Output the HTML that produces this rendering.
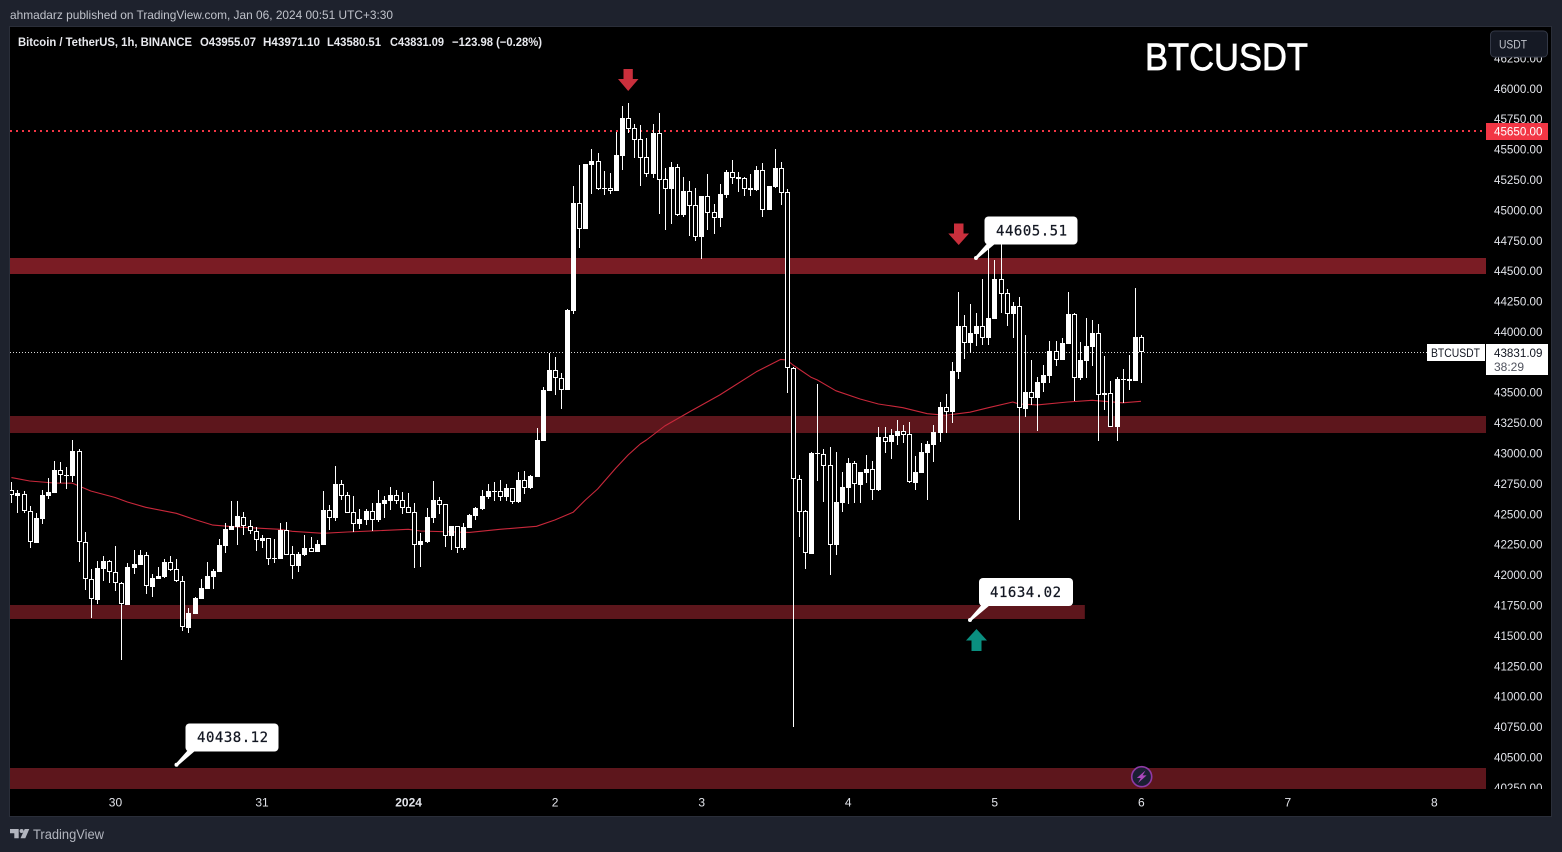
<!DOCTYPE html>
<html lang="en">
<head>
<meta charset="utf-8">
<title>BTCUSDT 1h chart</title>
<style>
html,body{margin:0;padding:0;background:#1e222d;width:1562px;height:852px;overflow:hidden}
svg{display:block;font-family:"Liberation Sans",sans-serif}
.tick{font-size:12px;fill:#e2e4ea}
.legend{font-size:12px;fill:#e8e9ee;font-weight:bold}
.callout-text{font-family:"DejaVu Sans Mono",monospace;font-size:14px;font-weight:normal;fill:#131722;stroke:#131722;stroke-width:0.25px}
</style>
</head>
<body>
<svg id="chart" width="1562" height="852" viewBox="0 0 1562 852" xmlns="http://www.w3.org/2000/svg">
  <defs>
    <clipPath id="pane-clip"><rect x="10" y="27" width="1476" height="762"/></clipPath>
    <clipPath id="axis-clip"><rect x="1486" y="27" width="65" height="762"/></clipPath>
  </defs>
  <rect x="0" y="0" width="1562" height="852" fill="#1e222d"/>
  <rect x="9" y="26" width="1543" height="791" fill="#2a2e39"/>
  <rect x="10" y="27" width="1541" height="789" fill="#000"/>
  <text x="10" y="19" font-size="12" fill="#c0c3cb" textLength="383" lengthAdjust="spacingAndGlyphs">ahmadarz published on TradingView.com, Jan 06, 2024 00:51 UTC+3:30</text>

  <g id="bands" clip-path="url(#pane-clip)"></g>
  <g id="ma" clip-path="url(#pane-clip)"></g>
  <line x1="10" x2="1486" y1="131" y2="131" stroke="#f23645" stroke-width="2" stroke-dasharray="2 4"/>
  <line x1="10" x2="1427" y1="352.5" y2="352.5" stroke="#d8d8d8" stroke-width="1" stroke-dasharray="1 2"/>
  <g id="candles" clip-path="url(#pane-clip)" shape-rendering="crispEdges"></g>

  <g id="y-axis" clip-path="url(#axis-clip)"></g>
  <g id="x-axis"></g>

  <g>
    <text class="legend" x="18" y="46" textLength="174" lengthAdjust="spacingAndGlyphs">Bitcoin / TetherUS, 1h, BINANCE</text>
    <text class="legend" x="200" y="46" textLength="56" lengthAdjust="spacingAndGlyphs">O43955.07</text>
    <text class="legend" x="263" y="46" textLength="57" lengthAdjust="spacingAndGlyphs">H43971.10</text>
    <text class="legend" x="327" y="46" textLength="54" lengthAdjust="spacingAndGlyphs">L43580.51</text>
    <text class="legend" x="390" y="46" textLength="54" lengthAdjust="spacingAndGlyphs">C43831.09</text>
    <text class="legend" x="452" y="46" textLength="90" lengthAdjust="spacingAndGlyphs">−123.98 (−0.28%)</text>
  </g>

  <text x="1145" y="70" font-size="38" fill="#fff" stroke="#fff" stroke-width="0.7" textLength="163" lengthAdjust="spacingAndGlyphs">BTCUSDT</text>

  <g>
    <rect x="1490.5" y="31" width="57" height="26" rx="4" fill="#151924" stroke="#333846"/>
    <text x="1499" y="48.5" font-size="12" fill="#c0c3cb" textLength="28" lengthAdjust="spacingAndGlyphs">USDT</text>
  </g>

  <g>
    <rect x="1486" y="123" width="62" height="17" fill="#f23645"/>
    <text x="1494" y="135.5" font-size="12" fill="#fff" textLength="48.5" lengthAdjust="spacingAndGlyphs">45650.00</text>
  </g>

  <g>
    <rect x="1427" y="344" width="58" height="17" fill="#fff"/>
    <text x="1431" y="357" font-size="12" fill="#131722" textLength="49" lengthAdjust="spacingAndGlyphs">BTCUSDT</text>
    <rect x="1486" y="344" width="62" height="31" fill="#fff"/>
    <text x="1494" y="357" font-size="12" fill="#131722" textLength="48.5" lengthAdjust="spacingAndGlyphs">43831.09</text>
    <text x="1494" y="371" font-size="12" fill="#50535e" textLength="30" lengthAdjust="spacingAndGlyphs">38:29</text>
  </g>

  <polygon points="623.5,69 632.8,69 632.8,79 638.5,79 628.2,91 618,79 623.5,79" fill="#c92f3c"/>
  <polygon points="954,223.5 963.5,223.5 963.5,233.5 969,233.5 958.7,245 948.3,233.5 954,233.5" fill="#c92f3c"/>
  <polygon points="976.5,629 987,640.5 981.5,640.5 981.5,651 971.5,651 971.5,640.5 966,640.5" fill="#0a8f80"/>

  <g>
    <polygon points="975.2,257 977,259 996,243 987.5,243" fill="#fff"/>
    <circle cx="976" cy="258" r="2" fill="#fff"/>
    <rect x="984.5" y="216.5" width="93" height="28" rx="4" fill="#fff"/>
    <text class="callout-text" x="996" y="235.5" textLength="71">44605.51</text>
  </g>
  <g>
    <polygon points="969.2,619 971,621 990,605 981.5,605" fill="#fff"/>
    <circle cx="970" cy="620" r="2" fill="#fff"/>
    <rect x="979" y="578" width="94" height="28" rx="4" fill="#fff"/>
    <text class="callout-text" x="990" y="597" textLength="71">41634.02</text>
  </g>
  <g>
    <polygon points="175.5,764 177.5,766 196,750 188,750" fill="#fff"/>
    <circle cx="176.5" cy="764.7" r="2" fill="#fff"/>
    <rect x="185.5" y="723.5" width="93" height="28" rx="4" fill="#fff"/>
    <text class="callout-text" x="197" y="742" textLength="71">40438.12</text>
  </g>

  <g>
    <circle cx="1141.7" cy="776.7" r="10" fill="#1a1f33" stroke="#8f3aa6" stroke-width="1.6"/>
    <polygon points="1145.5,770.5 1136.8,778 1140.8,778 1138,783 1146.6,775.4 1142.6,775.4" fill="#ab47bc"/>
  </g>

  <g>
    <path d="M10 829h8.7v9.2h-4.4v-5h-4.3zM24.7 829h4.6l-4 9.2h-4.8z" fill="#b2b5be"/>
    <circle cx="21.6" cy="831" r="2" fill="#b2b5be"/>
    <text x="33" y="839" font-size="13.5" fill="#b2b5be" textLength="71" lengthAdjust="spacingAndGlyphs">TradingView</text>
  </g>
</svg>

<script>
const opens = [42694,42651,42667,42527,42264,42461,42648,42675,42859,42820,
42815,43015,42267,41962,41792,42047,42110,42020,41929,41751,
42058,42080,42160,41902,41968,41982,42102,42045,41946,41562,
41677,41801,41883,41982,42023,42237,42368,42396,42478,42404,
42357,42280,42300,42138,42130,42365,42168,42075,42165,42217,
42187,42245,42530,42470,42744,42653,42513,42420,42450,42522,
42450,42585,42607,42653,42612,42555,42513,42247,42269,42470,
42612,42579,42322,42398,42220,42385,42483,42541,42640,42689,
42686,42640,42711,42598,42777,42714,42804,43100,43514,43684,
43616,43522,44172,45056,44847,45371,45404,45179,45179,45157,
45445,45755,45673,45582,45434,45297,45632,45253,45174,45352,
44960,45154,45039,44779,45113,44982,44935,45124,45311,45256,
45261,45165,45165,45327,45001,45190,45344,45146,43698,42785,
42522,42173,43001,42990,42900,42247,42593,42716,42917,42741,
42837,42867,42697,43130,43092,43144,43180,43155,42757,42840,
43004,43070,43169,43377,43339,43671,44044,43907,43981,44044,
43948,44104,44433,44316,44146,44209,43364,43501,43455,43578,
43635,43838,43767,43899,44143,43619,43759,43874,43986,43479,
43493,43219,43611,43594,43594,43955.07];
const highs = [42760,42697,42689,42563,42508,42697,42793,42933,42925,42886,
43108,43032,42352,42047,42113,42154,42121,42237,41938,42094,
42201,42201,42187,42003,42064,42127,42154,42127,41990,41727,
41817,41965,42102,42047,42294,42423,42607,42607,42513,42450,
42396,42324,42305,42294,42423,42434,42237,42187,42324,42311,
42283,42689,42574,42895,42777,42678,42648,42541,42541,42587,
42697,42648,42722,42697,42681,42670,42587,42343,42546,42771,
42640,42582,42401,42401,42426,42500,42557,42697,42747,42763,
42779,42747,42714,42845,42853,42818,43207,43542,43827,43789,
43657,44184,45198,45371,45379,45500,45467,45322,45305,45645,
45856,45881,45708,45700,45593,45708,45799,45346,45396,45379,
45272,45239,45182,45116,45297,45050,45215,45330,45412,45311,
45272,45297,45363,45388,45198,45503,45396,45173,43712,42821,
42533,43010,43569,43034,43051,43010,42842,42958,42936,42845,
42985,42936,43215,43215,43199,43273,43232,43257,42977,43084,
43100,43232,43421,43487,43751,44326,44137,44228,44154,44433,
44729,44590,44729,44351,44244,44285,43973,43767,43627,43726,
43923,43923,43948,44327,44154,43915,44113,44096,44063,43800,
43594,43627,43693,43808,44359,43971.10];
const lows = [42593,42511,42511,42223,42264,42420,42626,42675,42752,42708,
42760,42108,41875,41647,41762,41949,41932,41866,41302,41751,
42009,42080,41844,41820,41965,41973,42034,41938,41540,41524,
41677,41800,41883,41883,42023,42182,42374,42247,42327,42335,
42198,42220,42080,42097,42130,42160,41968,42023,42157,42187,
42187,42245,42368,42445,42615,42508,42352,42376,42409,42360,
42434,42467,42533,42582,42500,42508,42058,42067,42261,42426,
42500,42231,42204,42179,42204,42385,42450,42533,42626,42607,
42607,42607,42582,42593,42664,42705,42804,43100,43514,43481,
43366,43520,44148,44688,44847,45133,45165,45124,45133,45157,
45330,45632,45429,45198,45272,45264,44968,44836,44886,44952,
44943,44787,44746,44598,44836,44803,44861,45100,45215,45149,
45116,45116,45157,44943,45001,45182,45042,43498,40748,42313,
42050,42173,42771,42601,42001,42165,42519,42585,42593,42593,
42757,42618,42692,43004,42955,43070,43086,42757,42700,42837,
42615,42930,43095,43169,43252,43614,43778,43827,43882,43891,
43891,44104,44154,44047,43948,42451,43298,43394,43183,43504,
43578,43718,43767,43899,43430,43603,43619,43718,43101,43356,
43219,43101,43413,43520,43594,43580.51];
const closes = [42653,42672,42527,42267,42464,42656,42681,42862,42818,42815,
43018,42267,41962,41798,42056,42113,42020,41929,41757,42064,
42088,42163,41905,41973,41990,42105,42042,41946,41567,41685,
41809,41891,41990,42031,42245,42376,42401,42483,42404,42357,
42283,42302,42127,42132,42368,42165,42075,42168,42217,42190,
42250,42533,42470,42747,42651,42511,42420,42456,42522,42450,
42590,42615,42656,42609,42552,42511,42247,42278,42475,42615,
42577,42322,42401,42223,42393,42492,42549,42648,42689,42683,
42642,42714,42598,42779,42716,42812,43109,43520,43684,43616,
43522,44178,45058,44847,45379,45404,45174,45174,45160,45453,
45758,45670,45577,45431,45300,45634,45250,45176,45355,44960,
45157,45037,44782,45116,44979,44938,45132,45313,45267,45272,
45176,45182,45330,45004,45198,45346,45143,43698,42785,42519,
42176,42999,42996,42897,42247,42598,42719,42917,42744,42845,
42870,42700,43133,43095,43150,43182,43152,42760,42842,43010,
43076,43174,43380,43342,43677,44047,43910,43989,44047,43951,
44113,44433,44313,44148,44211,43370,43504,43457,43586,43644,
43841,43770,43907,44145,43622,43767,43882,43989,43482,43496,
43219,43611,43603,43611,43956,43831.09];

const maBars = [0,1,3,7,10,13,17,19,22,27,30,33,36,39,44,46,51,55,60,65,67,75,80,86,89,92,94,96,99,101,103,104,107,111,116,122,126,127,128,131,132,135,139,142,146,150,153,157,160,164,165,168,173,177,182,185];
const maValues = [42799,42790,42771,42755,42753,42689,42636,42599,42555,42506,42455,42409,42396,42387,42374,42358,42341,42352,42363,42374,42360,42349,42374,42399,42451,42514,42615,42706,42878,42985,43076,43109,43224,43339,43479,43670,43772,43767,43726,43624,43602,43514,43446,43405,43374,43325,43312,43337,43374,43421,43405,43397,43421,43435,43415,43427];

const priceTicks = [46250,46000,45750,45500,45250,45000,44750,44500,44250,44000,43750,43500,43250,43000,42750,42500,42250,42000,41750,41500,41250,41000,40750,40500,40250];
const hiddenPriceTicks = [43750];
const timeBars = [17,41,65,89,113,137,161,185,209,233];
const timeLabels = ['30','31','2024','2','3','4','5','6','7','8'];

const bandTops = [44606,43306,41751,40411];
const bandBottoms = [44474,43166,41636,40238];
const bandEndBars = [999,999,175.8,999];

const SVG_NS = 'http://www.w3.org/2000/svg';
function xScale(bar){ return 1141 + (bar - 185) * 6.106; }
function yScale(price){ return 88.5 + (46000 - price) * 0.12157; }
function make(tag, attrs){
  const el = document.createElementNS(SVG_NS, tag);
  for (const k in attrs) el.setAttribute(k, attrs[k]);
  return el;
}

const bandsGroup = document.getElementById('bands');
bandTops.forEach(function(top, i){
  const y1 = Math.round(yScale(top));
  const y2 = Math.round(yScale(bandBottoms[i]));
  const x2 = Math.min(1486, xScale(bandEndBars[i]));
  const r = make('rect', {x: 10, y: y1, width: x2 - 10, height: y2 - y1, fill: i === 0 ? '#7a1c24' : '#5d161c'});
  
  
  bandsGroup.appendChild(r);
});

const maGroup = document.getElementById('ma');
const maPath = make('polyline', {
  points: maBars.map(function(b, i){ return xScale(b).toFixed(1) + ',' + yScale(maValues[i]).toFixed(1); }).join(' '),
  fill: 'none', stroke: '#c9283b', 'stroke-width': 1.1, 'stroke-linejoin': 'round'
});


maGroup.appendChild(maPath);

const candleGroup = document.getElementById('candles');
opens.forEach(function(open, i){
  const cx = Math.round(xScale(i));
  const close = closes[i];
  const yHigh = Math.round(yScale(highs[i]));
  const yLow = Math.round(yScale(lows[i]));
  const yTop = Math.round(yScale(Math.max(open, close)));
  const yBot = Math.max(yTop + 1, Math.round(yScale(Math.min(open, close))));
  const wick = make('rect', {x: cx, y: yHigh, width: 1, height: Math.max(1, yLow - yHigh), fill: '#fff'});
  
  
  candleGroup.appendChild(wick);
  const body = make('rect', {x: cx - 2, y: yTop, width: 5, height: yBot - yTop, fill: '#fff'});
  
  
  candleGroup.appendChild(body);
  if (close < open && yBot - yTop > 2) {
    const inner = make('rect', {x: cx - 1, y: yTop + 1, width: 3, height: yBot - yTop - 2, fill: '#000'});
    
    
    candleGroup.appendChild(inner);
  }
});

const yAxis = document.getElementById('y-axis');
priceTicks.forEach(function(p){
  if (hiddenPriceTicks.indexOf(p) >= 0) return;
  const t = make('text', {x: 1494, y: yScale(p) + 4.3, 'class': 'tick', textLength: 48.5, lengthAdjust: 'spacingAndGlyphs'});
  
  
  t.textContent = p.toFixed(2);
  yAxis.appendChild(t);
});

const xAxis = document.getElementById('x-axis');
timeBars.forEach(function(b, i){
  const t = make('text', {x: xScale(b) + 0.3, y: 806.5, 'class': 'tick', 'text-anchor': 'middle'});
  if (timeLabels[i] === '2024') t.setAttribute('font-weight', 'bold');
  
  
  t.textContent = timeLabels[i];
  xAxis.appendChild(t);
});
</script>
</body>
</html>
